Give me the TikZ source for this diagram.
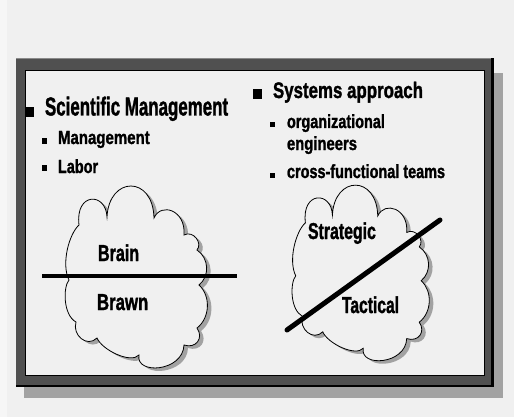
\documentclass[tikz,border=0pt]{standalone}
\usepackage{fontspec}
\usepackage{graphicx}
\newfontfamily\slidefont{Liberation Sans Bold}[FakeBold=1.6]
\definecolor{paper}{HTML}{F0F0F0}
\definecolor{edgestrip}{HTML}{F6F6F6}
\definecolor{framegray}{HTML}{505050}
\definecolor{framelight}{HTML}{8A8A8A}
\definecolor{dropshade}{HTML}{A2A2A2}
% horizontally condensed text
\newcommand{\hs}[2]{\scalebox{#1}[1]{#2}}
% lumpy cloud outline, centred on the origin
\newcommand{\cloudoutline}{%
  (-54,-51) .. controls (-58,-84) and (-27,-84) .. (-26,-59)
  .. controls (-24,-100) and (20,-101) .. (21,-58)
  .. controls (28,-74) and (53,-66) .. (51,-41)
  .. controls (60,-46) and (70,-33) .. (64,-26)
  .. controls (76,-18) and (77,0) .. (66,9)
  .. controls (78,20) and (77,42) .. (64,52)
  .. controls (71,62) and (63,73) .. (51,69)
  .. controls (50,96) and (2,99) .. (6,79)
  .. controls (-2,88) and (-31,74) .. (-36,62)
  .. controls (-46,72) and (-61,59) .. (-57,46)
  .. controls (-70,39) and (-70,11) .. (-64,4)
  .. controls (-72,-12) and (-64,-42) .. cycle}
\tikzset{
  txt/.style={anchor=base west, inner sep=0pt, outer sep=0pt, text=black},
  headtxt/.style={txt, font=\slidefont\fontsize{26pt}{30pt}\selectfont},
  headtxtb/.style={txt, font=\slidefont\fontsize{22.5pt}{27pt}\selectfont},
  subtxt/.style={txt, font=\slidefont\fontsize{19pt}{22pt}\selectfont},
  cloudtxt/.style={txt, font=\slidefont\fontsize{23pt}{27pt}\selectfont},
  bigbullet/.style={fill=black, inner sep=0pt, minimum width=9pt, minimum height=9.5pt},
  smallbullet/.style={fill=black, inner sep=0pt, minimum size=5.5pt},
  cloudshadow/.style={fill=dropshade, draw=none},
  cloudbody/.style={fill=paper, draw=black, line width=0.8pt},
  divider/.style={draw=black, line width=4.5pt}
}
\begin{document}
\begin{tikzpicture}[x=1pt,y=-1pt]
\useasboundingbox (0,0) rectangle (514,417);
\fill[paper] (0,0) rectangle (514,417);
\fill[edgestrip] (0,0) rectangle (7,417);

% slide frame with drop shadow
\fill[dropshade] (24,73) rectangle (503,398);
\fill[framegray] (16,58) rectangle (494,387);
\fill[framelight] (16,58) rectangle (494,59.5);
\fill[black] (491,58) rectangle (494,387);
\fill[black] (16,385) rectangle (494,387);
\filldraw[fill=paper, draw=black, line width=1pt] (25,71) rectangle (484,375);

% left column
\node[bigbullet] (b1) at (29,112) {};
\node[headtxt] (sci) at (45,115.5) {\hs{0.65}{Scientific Management}};
\node[smallbullet] (b2) at (44.5,141) {};
\node[subtxt] (mgmt) at (58,144) {\hs{0.79}{Management}};
\node[smallbullet] (b3) at (44.5,168) {};
\node[subtxt] (labor) at (58,173) {\hs{0.76}{Labor}};

% right column
\node[bigbullet] (b4) at (257,94) {};
\node[headtxtb] (sys) at (273,98) {\hs{0.75}{Systems approach}};
\node[smallbullet] (b5) at (272.5,124.5) {};
\node[subtxt] (org) at (287,128) {\hs{0.76}{organizational}};
\node[subtxt] (eng) at (287,150) {\hs{0.78}{engineers}};
\node[smallbullet] (b6) at (272.5,175.5) {};
\node[subtxt] (cross) at (287,178) {\hs{0.76}{cross-functional teams}};

% left cloud: brain over brawn
\begin{scope}[shift={(137,279)}]
  \path[cloudshadow] \cloudoutline;
\end{scope}
\begin{scope}[shift={(133,276)}]
  \path[cloudbody] \cloudoutline;
\end{scope}
\node[cloudtxt] (brain) at (98,261) {\hs{0.70}{Brain}};
\node[cloudtxt] (brawn) at (97,310) {\hs{0.73}{Brawn}};
\coordinate (hl) at (42,276);
\coordinate (hr) at (237,276);
\draw[divider] (hl) -- (hr);

% right cloud: strategic over tactical
\begin{scope}[shift={(361.5,275)}, scale=0.965]
  \path[cloudshadow] \cloudoutline;
\end{scope}
\begin{scope}[shift={(357.5,272)}, scale=0.965]
  \path[cloudbody] \cloudoutline;
\end{scope}
\node[cloudtxt] (strat) at (308,239) {\hs{0.69}{Strategic}};
\node[cloudtxt] (tact) at (342,313) {\hs{0.68}{Tactical}};
\coordinate (dl) at (287,330);
\coordinate (dr) at (440,220);
\draw[divider, line width=5pt, line cap=round] (dl) -- (dr);
\end{tikzpicture}
\end{document}
